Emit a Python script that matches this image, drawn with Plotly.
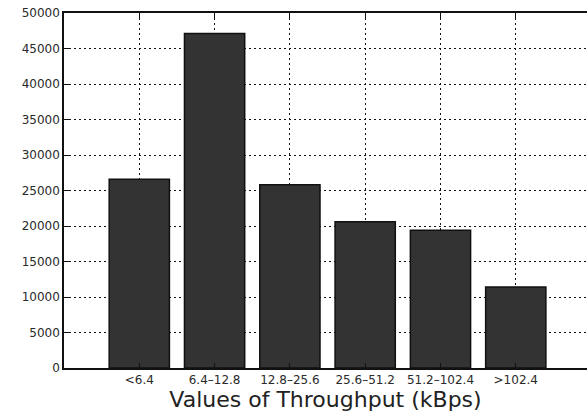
import plotly.graph_objects as go

categories = ["<6.4", "6.4–12.8", "12.8–25.6", "25.6–51.2", "51.2–102.4", ">102.4"]
positions = [1, 2, 3, 4, 5, 6]
counts = [26600, 47100, 25800, 20600, 19400, 11400]
y_ticks = [0, 5000, 10000, 15000, 20000, 25000, 30000, 35000, 40000, 45000, 50000]

fig = go.Figure()
fig.add_trace(go.Bar(
    x=positions, y=counts, width=0.8,
    marker=dict(color="#333333", line=dict(color="#111111", width=1.5)),
))

fig.update_layout(
    width=587, height=417,
    margin=dict(l=64, r=0, t=13, b=49, autoexpand=False),
    paper_bgcolor="white", plot_bgcolor="white",
    showlegend=False,
    xaxis=dict(
        range=[0, 6.946], automargin=False,
        tickmode="array", tickvals=positions, ticktext=categories,
        tickfont=dict(family="DejaVu Sans", size=12, color="#2a2a2a"),
        showgrid=True, gridcolor="#111111", gridwidth=1.4, griddash="2px,3px",
        ticks="inside", ticklen=5, tickcolor="#111111",
        showline=True, linecolor="#111111", linewidth=1.5, mirror="ticks",
        title=dict(text="Values of Throughput (kBps)", standoff=1,
                   font=dict(family="DejaVu Sans", size=22, color="#222222")),
        zeroline=False,
    ),
    yaxis=dict(
        range=[0, 50000], automargin=False,
        tickmode="array", tickvals=y_ticks, ticktext=[str(v) for v in y_ticks],
        tickfont=dict(family="DejaVu Sans", size=12, color="#2a2a2a"),
        showgrid=True, gridcolor="#111111", gridwidth=1.4, griddash="2px,3px",
        ticks="inside", ticklen=5, tickcolor="#111111",
        showline=True, linecolor="#111111", linewidth=1.5,
        zeroline=False,
    ),
)

fig.write_html(
    "out.html",
    config={"responsive": False, "displayModeBar": False},
    post_script="document.body.style.margin='0';document.body.style.overflow='hidden';",
)
